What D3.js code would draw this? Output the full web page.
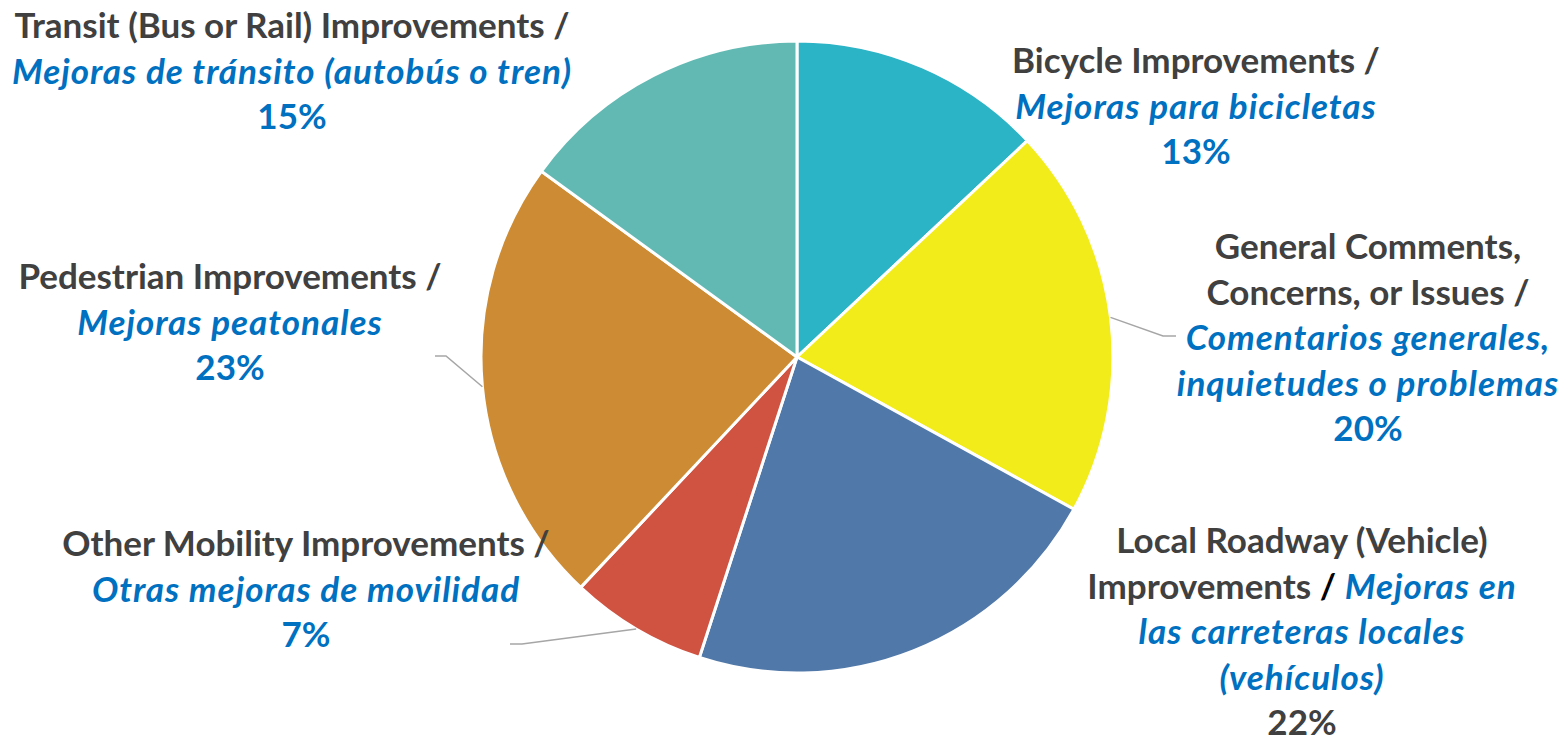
<!DOCTYPE html>
<html>
<head>
<meta charset="utf-8">
<script src="https://cdn.jsdelivr.net/npm/d3@7"></script>
<style>
  html, body { margin: 0; padding: 0; background: #fff; }
  svg { display: block; }
  text { font-family: Lato, "Open Sans", sans-serif; font-weight: bold; }
</style>
</head>
<body>
<div id="chart"></div>
<script>
// Categories in clockwise order from 12 o'clock
const categories = [
  "Bicycle Improvements",
  "General Comments, Concerns, or Issues",
  "Local Roadway (Vehicle) Improvements",
  "Other Mobility Improvements",
  "Pedestrian Improvements",
  "Transit (Bus or Rail) Improvements",
];
const spanishNames = [
  "Mejoras para bicicletas",
  "Comentarios generales, inquietudes o problemas",
  "Mejoras en las carreteras locales (vehículos)",
  "Otras mejoras de movilidad",
  "Mejoras peatonales",
  "Mejoras de tránsito (autobús o tren)",
];
const percents = [13, 20, 22, 7, 23, 15];
const sliceColors = ["#2bb3c6", "#f3ec1b", "#5078a8", "#d05240", "#cd8b33", "#62b9b3"];

// how each label is broken into lines: en = english, sep = slash, es = spanish, pct = value
const labelLines = [
  [[["en", "Bicycle Improvements /"]], [["es", "Mejoras para bicicletas"]], [["pct"]]],
  [[["en", "General Comments,"]], [["en", "Concerns, or Issues /"]],
   [["es", "Comentarios generales,"]], [["es", "inquietudes o problemas"]], [["pct"]]],
  [[["en", "Local Roadway (Vehicle)"]], [["en", "Improvements "], ["sep", "/"], ["es", " Mejoras en"]],
   [["es", "las carreteras locales"]], [["es", "(vehículos)"]], [["pctDark"]]],
  [[["en", "Other Mobility Improvements /"]], [["es", "Otras mejoras de movilidad"]], [["pct"]]],
  [[["en", "Pedestrian Improvements /"]], [["es", "Mejoras peatonales"]], [["pct"]]],
  [[["en", "Transit (Bus or Rail) Improvements /"]], [["es", "Mejoras de tránsito (autobús o tren)"]], [["pct"]]],
];

// label placement: center x, first baseline
const labelLayout = [
  { x: 1196, y: 73 },
  { x: 1368, y: 259 },
  { x: 1302, y: 553 },
  { x: 306, y: 556 },
  { x: 230, y: 289 },
  { x: 292, y: 38 },
];
const leaders = [
  null,
  { elbow: [1163, 336], end: [1176, 336] },
  null,
  { elbow: [522, 644], end: [510, 644] },
  { elbow: [446, 356], end: [435, 356] },
  null,
];

const width = 1563;
const height = 743;
const cx = 797, cy = 357, radius = 316;
const lineGap = 45.5;
const fontSize = 35;

const svg = d3.select("#chart")
  .append("svg")
  .attr("width", width)
  .attr("height", height);

const pie = d3.pie().sort(null).value((d) => d);
const arcs = pie(percents);
const arc = d3.arc().innerRadius(0).outerRadius(radius);

const g = svg.append("g").attr("transform", `translate(${cx},${cy})`);

g.selectAll("path")
  .data(arcs)
  .join("path")
  .attr("d", arc)
  .attr("fill", (d, i) => sliceColors[i])
  .attr("stroke", "#fff")
  .attr("stroke-width", 3)
  .attr("stroke-linejoin", "round");

// leader lines start on the rim at the slice's mid angle
arcs.forEach((d, i) => {
  const ld = leaders[i];
  if (!ld) return;
  const a = (d.startAngle + d.endAngle) / 2;
  const sx = cx + radius * Math.sin(a);
  const sy = cy - radius * Math.cos(a);
  svg.append("polyline")
    .attr("points", [[sx, sy], ld.elbow, ld.end].map((p) => p.join(",")).join(" "))
    .attr("fill", "none")
    .attr("stroke", "#a6a6a6")
    .attr("stroke-width", 1.5);
});

// labels
labelLines.forEach((lines, i) => {
  const lay = labelLayout[i];
  const text = svg.append("text")
    .attr("text-anchor", "middle")
    .style("font-size", fontSize + "px");
  lines.forEach((segs, li) => {
    const line = text.append("tspan")
      .attr("x", lay.x)
      .attr("y", lay.y + li * lineGap);
    segs.forEach(([kind, str]) => {
      const t = line.append("tspan");
      if (kind === "en") t.attr("fill", "#404040").text(str);
      else if (kind === "sep") t.attr("fill", "#000").text(str);
      else if (kind === "es") {
        t.attr("fill", "#0070c0")
          .style("font-style", "italic")
          .style("letter-spacing", "1px")
          .text(str);
      }
      else if (kind === "pct") t.attr("fill", "#0070c0").text(percents[i] + "%");
      else if (kind === "pctDark") t.attr("fill", "#404040").text(percents[i] + "%");
    });
  });
});
</script>
</body>
</html>
